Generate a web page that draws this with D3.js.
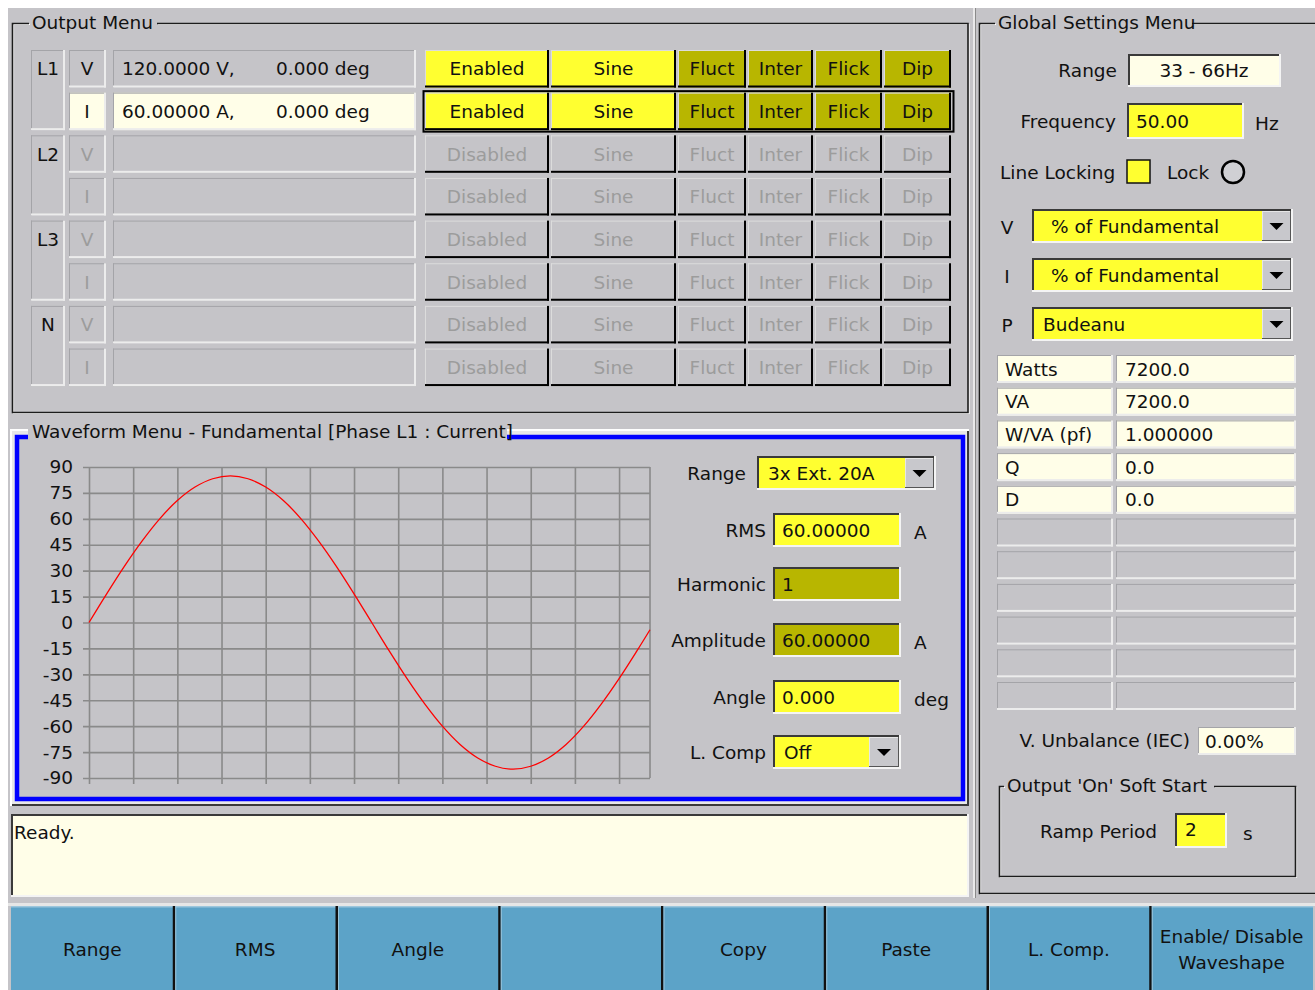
<!DOCTYPE html>
<html>
<head>
<meta charset="utf-8">
<script src="https://cdn.jsdelivr.net/npm/d3@7/dist/d3.min.js"></script>
<style>
  html, body { margin: 0; padding: 0; background: #fff; }
  svg text { font-family: "DejaVu Sans", Verdana, sans-serif; font-size: 18.5px; fill: #111; }
</style>
</head>
<body>
<div id="screen"></div>
<script>
(function () {
    "use strict";

    const WIDTH = 1315;
    const HEIGHT = 990;

    const BG = "#c5c4c8";
    const YELLOW = "#ffff30";
    const OLIVE = "#b8b600";
    const CREAM = "#fffee8";
    const KEY_BLUE = "#5ca3c8";
    const GREY_TEXT = "#9c9c9c";
    const LIGHT = "#f2f2f2";
    const DARK = "#1c1c1c";

    /* ---- data ---- */
    const phases = ["L1", "L2", "L3", "N"];
    const channels = ["V", "I"];
    const outValues = [["120.0000 V,", "0.000 deg"], ["60.00000 A,", "0.000 deg"], ["", ""], ["", ""], ["", ""], ["", ""], ["", ""], ["", ""]];
    const outEnabled = [true, true, false, false, false, false, false, false];
    const modeLabels = ["Sine", "Fluct", "Inter", "Flick", "Dip"];

    const powerLabels = ["Watts", "VA", "W/VA (pf)", "Q", "D", "", "", "", "", "", ""];
    const powerValues = ["7200.0", "7200.0", "1.000000", "0.0", "0.0", "", "", "", "", "", ""];

    const softKeys = ["Range", "RMS", "Angle", "", "Copy", "Paste", "L. Comp.", "Enable/ Disable\nWaveshape"];

    const yTicks = [90, 75, 60, 45, 30, 15, 0, -15, -30, -45, -60, -75, -90];
    const xGrid = [0, 10, 20, 30, 40, 50, 60, 70, 80, 90, 100, 110, 120];
    const sampleIdx = [0, 4, 8, 12, 16, 20, 24, 28, 32, 36, 40, 44, 48, 52, 56, 60, 64,
                       68, 72, 76, 80, 84, 88, 92, 96, 100, 104, 108, 112, 116, 120, 124, 127];
    const current = [0, 16.6, 32.5, 47.1, 60.0, 70.6, 78.4, 83.2, 84.9, 83.2, 78.4, 70.6, 60.0, 47.1, 32.5, 16.6, 0,
                     -16.6, -32.5, -47.1, -60.0, -70.6, -78.4, -83.2, -84.9, -83.2, -78.4, -70.6, -60.0, -47.1, -32.5, -16.6, -4.2];

    const svg = d3.select("#screen").append("svg")
        .attr("width", WIDTH).attr("height", HEIGHT)
        .style("display", "block");

    /* ---- helpers ---- */
    function txt(g, x, y, s, opt) {
        opt = opt || {};
        return g.append("text")
            .attr("x", x).attr("y", y).attr("dy", "0.36em")
            .attr("text-anchor", opt.anchor || "start")
            .style("fill", opt.color || "#111")
            .text(s);
    }

    function line(g, x1, y1, x2, y2, color, w) {
        g.append("line").attr("x1", x1).attr("y1", y1).attr("x2", x2).attr("y2", y2)
            .attr("stroke", color).attr("stroke-width", w || 1);
    }

    // bevelled rectangle: "raised" = light top-left, dark bottom-right; "sunken" the reverse
    function bevel(g, x, y, w, h, fill, kind, tlCol, brCol, tlW, brW) {
        g.append("rect").attr("x", x).attr("y", y).attr("width", w).attr("height", h).attr("fill", fill);
        const a = tlW || 1, b = brW || 1;
        const tl = tlCol || (kind === "raised" ? LIGHT : "#3a3a3a");
        const br = brCol || (kind === "raised" ? "#000" : LIGHT);
        g.append("rect").attr("x", x).attr("y", y).attr("width", w).attr("height", a).attr("fill", tl);
        g.append("rect").attr("x", x).attr("y", y).attr("width", a).attr("height", h).attr("fill", tl);
        g.append("rect").attr("x", x).attr("y", y + h - b).attr("width", w).attr("height", b).attr("fill", br);
        g.append("rect").attr("x", x + w - b).attr("y", y).attr("width", b).attr("height", h).attr("fill", br);
    }

    function arrowButton(g, x, y, w, h) {
        bevel(g, x, y, w, h, "#c8c8cc", "raised", "#e6e6e6", "#555", 1, 1);
        const cx = x + w / 2, cy = y + h / 2;
        g.append("path").attr("d", "M" + (cx - 7) + "," + (cy - 3) + "L" + (cx + 7) + "," + (cy - 3) + "L" + cx + "," + (cy + 4) + "Z")
            .attr("fill", "#000");
    }

    function groupFrame(g, x, y, w, h, title, tx, tw, openRight) {
        let p = "M" + (tx - 3) + "," + y + "H" + x + "V" + (y + h) + "H" + (x + w);
        p += openRight ? "M" + (x + w) + "," + y + "H" + (tx + tw + 3) : "V" + y + "H" + (tx + tw + 3);
        g.append("path").attr("d", p).attr("transform", "translate(1,1)").attr("fill", "none").attr("stroke", "#fff").attr("stroke-width", 1.2);
        g.append("path").attr("d", p).attr("fill", "none").attr("stroke", DARK).attr("stroke-width", 1.6);
        txt(g, tx, y - 1, title);
    }

    /* ---- background ---- */
    svg.append("rect").attr("width", WIDTH).attr("height", HEIGHT).attr("fill", "#fff");
    svg.append("rect").attr("x", 8).attr("y", 8).attr("width", WIDTH - 8).attr("height", HEIGHT - 8).attr("fill", BG);

    /* ---- output menu ---- */
    const gOut = svg.append("g");
    groupFrame(gOut, 12.5, 23.5, 955.5, 389, "Output Menu", 32, 122);

    const rowY = d3.scaleLinear().domain([0, 1]).range([50, 92.65]);
    const rowH = 37.5;
    const btnCols = [[425, 124, "en"], [551, 125, 0], [678, 68, 1], [748, 65, 2], [815, 67, 3], [884, 67, 4]];

    outValues.forEach(function (vals, i) {
        const y = rowY(i), cy = y + rowH / 2;
        const active = outEnabled[i];
        const selected = i === 1;
        // phase label box spans two rows
        if (i % 2 === 0) {
            bevel(gOut, 31, y, 34, rowY(i + 1) + rowH - y, BG, "sunken", "#a4a4a8", "#ececec", 1, 2);
            txt(gOut, 48, cy, phases[i / 2], { anchor: "middle" });
        }
        bevel(gOut, 69, y, 37, rowH, selected ? CREAM : BG, "sunken", "#a4a4a8", "#ececec", 1, 2);
        txt(gOut, 87, cy, channels[i % 2], { anchor: "middle", color: active ? "#111" : GREY_TEXT });
        bevel(gOut, 113, y, 303, rowH, selected ? CREAM : BG, "sunken", "#a4a4a8", "#ececec", 1, 2);
        if (vals[0]) {
            txt(gOut, 122, cy, vals[0]);
            txt(gOut, 276, cy, vals[1]);
        }
        btnCols.forEach(function (c) {
            let fill = BG, label, color = GREY_TEXT;
            if (c[2] === "en") {
                label = active ? "Enabled" : "Disabled";
                if (active) { fill = YELLOW; color = "#111"; }
            } else {
                label = modeLabels[c[2]];
                if (active) { fill = c[2] === 0 ? YELLOW : OLIVE; color = "#111"; }
            }
            bevel(gOut, c[0], y, c[1], rowH, fill, "raised", "#dcdcdc", "#000", 1, 2);
            txt(gOut, c[0] + c[1] / 2, cy, label, { anchor: "middle", color: color });
        });
        if (selected) {
            gOut.append("rect").attr("x", 423.5).attr("y", y - 1.5).attr("width", 530).attr("height", rowH + 3)
                .attr("fill", "none").attr("stroke", "#000").attr("stroke-width", 2);
        }
    });

    /* ---- waveform menu ---- */
    const gWave = svg.append("g");
    gWave.append("rect").attr("x", 10).attr("y", 429).attr("width", 959).attr("height", 377).attr("fill", "#fff");
    gWave.append("rect").attr("x", 12).attr("y", 431).attr("width", 957).attr("height", 375).attr("fill", "#3a3a3a");
    gWave.append("rect").attr("x", 12).attr("y", 431).attr("width", 955).attr("height", 373).attr("fill", "#e8e8e8");
    gWave.append("rect").attr("x", 17).attr("y", 437).attr("width", 946).attr("height", 362)
        .attr("fill", BG).attr("stroke", "#0000ff").attr("stroke-width", 4.5);
    gWave.append("rect").attr("x", 28).attr("y", 421).attr("width", 479).attr("height", 21).attr("fill", BG);
    txt(gWave, 32, 431, "Waveform Menu - Fundamental [Phase L1 : Current]");

    // plot
    const x = d3.scaleLinear().domain([0, 127]).range([89, 650]);
    const y = d3.scaleLinear().domain([-90, 90]).range([778, 467]);

    const gridColor = "#8a8a8a";
    const gx = gWave.append("g").attr("transform", "translate(0,784)")
        .call(d3.axisBottom(x).tickValues(xGrid).tickSize(-(784 - 467)).tickFormat(""));
    gx.select(".domain").remove();
    gx.selectAll(".tick line").attr("stroke", gridColor).attr("stroke-width", 1.6);

    const gy = gWave.append("g").attr("transform", "translate(83,0)")
        .call(d3.axisLeft(y).tickValues(yTicks).tickSize(-(650 - 83)).tickPadding(10)
            .tickFormat(function (d) { return String(d); }));
    gy.select(".domain").remove();
    gy.selectAll(".tick line").attr("stroke", gridColor).attr("stroke-width", 1.6);
    gy.selectAll(".tick text").style("font-size", "18.5px").style("font-family", "DejaVu Sans").attr("fill", "#111");

    gWave.append("line").attr("x1", x(127)).attr("x2", x(127)).attr("y1", y(90)).attr("y2", y(-90))
        .attr("stroke", gridColor).attr("stroke-width", 1.6);

    const pts = sampleIdx.map(function (d, i) { return [d, current[i]]; });
    gWave.append("path").datum(pts)
        .attr("d", d3.line().x(function (d) { return x(d[0]); }).y(function (d) { return y(d[1]); }).curve(d3.curveCatmullRom))
        .attr("fill", "none").attr("stroke", "#ff0000").attr("stroke-width", 1.3);

    // right side controls
    txt(gWave, 746, 473, "Range", { anchor: "end" });
    bevel(gWave, 757, 456, 179, 34, YELLOW, "sunken", "#3a3a3a", "#f4f4f4", 2, 2);
    txt(gWave, 768, 473, "3x Ext. 20A");
    arrowButton(gWave, 905, 458, 29, 30);

    const fields = [
        ["RMS", 513, YELLOW, "60.00000", "A"],
        ["Harmonic", 567, OLIVE, "1", ""],
        ["Amplitude", 623, OLIVE, "60.00000", "A"],
        ["Angle", 680, YELLOW, "0.000", "deg"],
        ["L. Comp", 735, YELLOW, "Off", ""]
    ];
    fields.forEach(function (f) {
        const cy = f[1] + 17;
        txt(gWave, 766, cy, f[0], { anchor: "end" });
        bevel(gWave, 773, f[1], 128, 34, f[2], "sunken", "#3a3a3a", "#f4f4f4", 2, 2);
        txt(gWave, f[0] === "L. Comp" ? 784 : 782, cy, f[3]);
        if (f[4]) txt(gWave, 914, cy + 2, f[4]);
    });
    arrowButton(gWave, 869, 737, 30, 30);

    /* ---- status box ---- */
    bevel(svg, 11, 814, 958, 83, CREAM, "sunken", "#3a3a3a", "#f4f4f4", 2, 2);
    txt(svg, 14, 832, "Ready.");

    /* ---- separator between left and right ---- */
    line(svg, 974, 8, 974, 898, "#f4f4f4", 1.5);
    line(svg, 975.5, 8, 975.5, 898, "#8a8a8a", 1);

    /* ---- global settings ---- */
    const gGlob = svg.append("g");
    groupFrame(gGlob, 979.5, 23.5, 1335, 870, "Global Settings Menu", 998, 191, true);

    txt(gGlob, 1117, 70, "Range", { anchor: "end" });
    bevel(gGlob, 1128, 54, 153, 33, CREAM, "sunken", "#3a3a3a", "#f4f4f4", 2, 2);
    txt(gGlob, 1204, 70, "33 - 66Hz", { anchor: "middle" });

    txt(gGlob, 1116, 121, "Frequency", { anchor: "end" });
    bevel(gGlob, 1127, 103, 117, 36, YELLOW, "sunken", "#3a3a3a", "#f4f4f4", 2, 2);
    txt(gGlob, 1136, 121, "50.00");
    txt(gGlob, 1255, 123, "Hz");

    txt(gGlob, 1000, 172, "Line Locking");
    gGlob.append("rect").attr("x", 1127).attr("y", 160).attr("width", 23).attr("height", 23)
        .attr("fill", YELLOW).attr("stroke", "#111").attr("stroke-width", 1.5);
    txt(gGlob, 1167, 172, "Lock");
    gGlob.append("circle").attr("cx", 1233).attr("cy", 172).attr("r", 11)
        .attr("fill", "#d0d0d4").attr("stroke", "#000").attr("stroke-width", 2.5);

    const drops = [["V", 209, "% of Fundamental", 1051], ["I", 258, "% of Fundamental", 1051], ["P", 307, "Budeanu", 1043]];
    drops.forEach(function (d) {
        txt(gGlob, 1007, d[1] + 18, d[0], { anchor: "middle" });
        bevel(gGlob, 1032, d[1], 261, 34, YELLOW, "sunken", "#3a3a3a", "#f4f4f4", 2, 2);
        txt(gGlob, d[3], d[1] + 17, d[2]);
        arrowButton(gGlob, 1262, d[1] + 2, 29, 30);
    });

    const pRow = d3.scaleLinear().domain([0, 1]).range([355, 387.7]);
    powerLabels.forEach(function (lab, i) {
        const ty = pRow(i), fill = lab ? CREAM : BG;
        bevel(gGlob, 997, ty, 116, 28, fill, "sunken", "#a4a4a8", "#ececec", 1, 2);
        bevel(gGlob, 1116, ty, 180, 28, fill, "sunken", "#a4a4a8", "#ececec", 1, 2);
        if (lab) {
            txt(gGlob, 1005, ty + 14, lab);
            txt(gGlob, 1125, ty + 14, powerValues[i]);
        }
    });

    txt(gGlob, 1190, 740, "V. Unbalance (IEC)", { anchor: "end" });
    bevel(gGlob, 1198, 727, 98, 28, CREAM, "sunken", "#a4a4a8", "#ececec", 1, 2);
    txt(gGlob, 1205, 741, "0.00%");

    groupFrame(gGlob, 999.5, 786.5, 296, 90, "Output 'On' Soft Start", 1007, 204);
    txt(gGlob, 1040, 831, "Ramp Period");
    bevel(gGlob, 1175, 813, 52, 35, YELLOW, "sunken", "#3a3a3a", "#f4f4f4", 2, 2);
    txt(gGlob, 1185, 829, "2");
    txt(gGlob, 1243, 833, "s");

    /* ---- soft keys ---- */
    const gKeys = svg.append("g");
    const kx = d3.scaleBand().domain(d3.range(softKeys.length)).range([11, 1313]);
    gKeys.append("rect").attr("x", 8).attr("y", 903).attr("width", WIDTH - 8).attr("height", 3).attr("fill", "#e6e6e6");
    softKeys.forEach(function (k, i) {
        const bx = kx(i), bw = kx.bandwidth();
        gKeys.append("rect").attr("x", bx).attr("y", 906).attr("width", bw).attr("height", 84).attr("fill", KEY_BLUE);
        gKeys.append("rect").attr("x", bx).attr("y", 906).attr("width", bw).attr("height", 1.5).attr("fill", "#9cc6dc");
        if (i > 0) {
            gKeys.append("rect").attr("x", bx - 1).attr("y", 906).attr("width", 2.5).attr("height", 84).attr("fill", "#111");
            gKeys.append("rect").attr("x", bx + 1.5).attr("y", 906).attr("width", 1).attr("height", 84).attr("fill", "#9cc6dc");
        }
        const parts = k.split("\n");
        parts.forEach(function (p, j) {
            const ty = 949 + (j - (parts.length - 1) / 2) * 26;
            txt(gKeys, bx + bw / 2, ty, p, { anchor: "middle" });
        });
    });
})();
</script>
</body>
</html>
